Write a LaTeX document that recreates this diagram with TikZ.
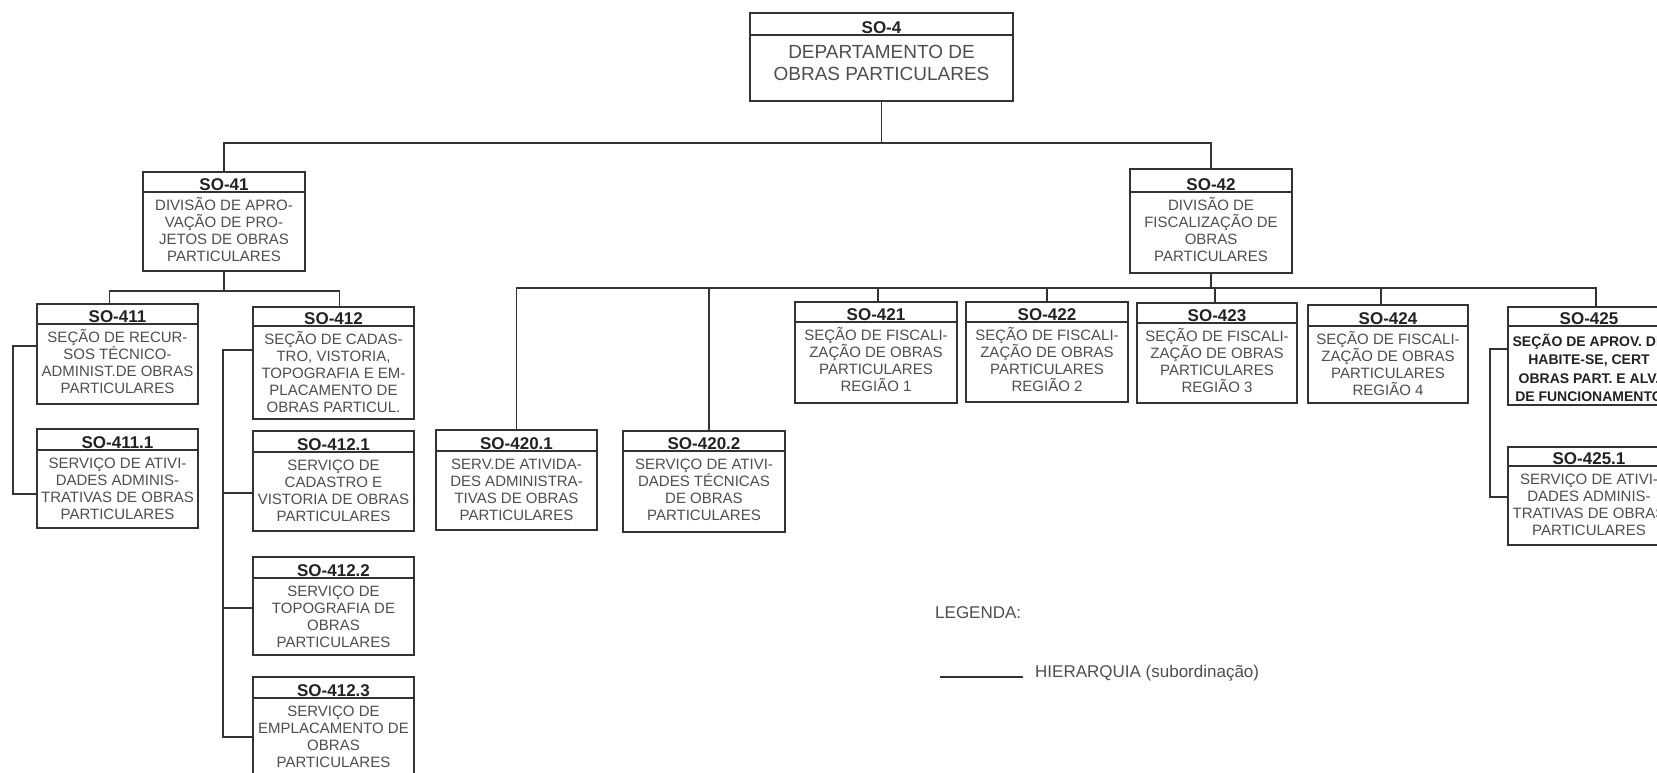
\documentclass[tikz,border=0pt]{standalone}
\usepackage{fontspec}
\setmainfont{Liberation Sans}
\definecolor{linec}{HTML}{333333}
\definecolor{bodyc}{HTML}{4E4E4E}
\definecolor{titlec}{HTML}{222222}
\newcommand\obox[9]{%
  \node[orgbox, minimum width={(#3)-(#2)}, minimum height={(#6)-(#4)}, anchor=north west] (#1) at (#2,#4) {};
  \draw[conn] (#2,#5) -- (#3,#5);
  \node[hdrtext, anchor=base] (#1-t) at ({((#2)+(#3))/2},{(#5)-1.5}) {#7};
  \node[bodytext, anchor=north, #9] (#1-b) at ({((#2)+(#3))/2},{(#5)-2}) {\rule{0pt}{20pt}#8};
}
\begin{document}
\begin{tikzpicture}[x=1pt,y=-1pt,
  orgbox/.style={draw=linec, line width=1.9pt, inner sep=0pt, outer sep=0pt, fill=white},
  conn/.style={draw=linec, line width=1.9pt},
  hdrtext/.style={inner sep=0pt, text=titlec, font=\fontsize{17}{20}\selectfont\bfseries},
  bodytext/.style={inner sep=0pt, align=center, text=bodyc, font=\fontsize{15}{17}\selectfont},
  legtext/.style={inner sep=0pt, text=bodyc, font=\fontsize{17}{20}\selectfont}]
\useasboundingbox (0,0) rectangle (1657,773);
\clip (0,0) rectangle (1657,773);
\fill[white] (0,0) rectangle (1657,773);

\obox{so4}{750}{1013}{13}{35}{101}{SO-4}{DEPARTAMENTO DE\\OBRAS PARTICULARES}{font=\fontsize{19}{22.5}\selectfont, yshift=-5.3pt}
\obox{so41}{143}{305}{172}{192}{271}{SO-41}{DIVISÃO DE APRO-\\VAÇÃO DE PRO-\\JETOS DE OBRAS\\PARTICULARES}{}
\obox{so411}{37}{198}{304}{324}{404}{SO-411}{SEÇÃO DE RECUR-\\SOS TÉCNICO-\\ADMINIST.DE OBRAS\\PARTICULARES}{}
\obox{so4111}{37}{198}{429}{450}{528}{SO-411.1}{SERVIÇO DE ATIVI-\\DADES ADMINIS-\\TRATIVAS DE OBRAS\\PARTICULARES}{}
\obox{so412}{253}{414}{307}{326}{419}{SO-412}{SEÇÃO DE CADAS-\\TRO, VISTORIA,\\TOPOGRAFIA E EM-\\PLACAMENTO DE\\OBRAS PARTICUL.}{}
\obox{so4121}{253}{414}{431}{452}{531}{SO-412.1}{SERVIÇO DE\\CADASTRO E\\VISTORIA DE OBRAS\\PARTICULARES}{}
\obox{so4122}{253}{414}{557}{578}{655}{SO-412.2}{SERVIÇO DE\\TOPOGRAFIA DE\\OBRAS\\PARTICULARES}{}
\obox{so4123}{253}{414}{677}{698}{778}{SO-412.3}{SERVIÇO DE\\EMPLACAMENTO DE\\OBRAS\\PARTICULARES}{}
\obox{so42}{1130}{1292}{169}{192}{273}{SO-42}{DIVISÃO DE\\FISCALIZAÇÃO DE\\OBRAS\\PARTICULARES}{}
\obox{so4201}{436}{597}{430}{451}{530}{SO-420.1}{SERV.DE ATIVIDA-\\DES ADMINISTRA-\\TIVAS DE OBRAS\\PARTICULARES}{}
\obox{so4202}{623}{785}{431}{451}{532}{SO-420.2}{SERVIÇO DE ATIVI-\\DADES TÉCNICAS\\DE OBRAS\\PARTICULARES}{}
\obox{so421}{795}{957}{302}{322}{403}{SO-421}{SEÇÃO DE FISCALI-\\ZAÇÃO DE OBRAS\\PARTICULARES\\REGIÃO 1}{}
\obox{so422}{966}{1128}{302}{322}{402}{SO-422}{SEÇÃO DE FISCALI-\\ZAÇÃO DE OBRAS\\PARTICULARES\\REGIÃO 2}{}
\obox{so423}{1137}{1297}{303}{323}{403}{SO-423}{SEÇÃO DE FISCALI-\\ZAÇÃO DE OBRAS\\PARTICULARES\\REGIÃO 3}{}
\obox{so424}{1308}{1468}{305}{326}{403}{SO-424}{SEÇÃO DE FISCALI-\\ZAÇÃO DE OBRAS\\PARTICULARES\\REGIÃO 4}{}
\obox{so425}{1508}{1670}{307}{326}{405}{SO-425}{SEÇÃO DE APROV. DE\\HABITE-SE, CERT\\OBRAS PART. E ALV.\\DE FUNCIONAMENTO}{font=\fontsize{14}{18.5}\selectfont\bfseries, text=titlec, yshift=-2pt}
\obox{so4251}{1508}{1670}{447}{466}{545}{SO-425.1}{SERVIÇO DE ATIVI-\\DADES ADMINIS-\\TRATIVAS DE OBRAS\\PARTICULARES}{}

% hierarchy connectors
\draw[conn] (so4.south) -- ++(0,42) coordinate (h0);
\draw[conn] (so41.north) |- (h0) -| (so42.north);
\draw[conn] (so41.south) -- ++(0,20) coordinate (h41);
\draw[conn] ([xshift=-8pt]so411.north) |- (h41) -| ([xshift=6pt]so412.north);
\draw[conn] (so42.south) -- ++(0,15) coordinate (h42);
\draw[conn] (so4201.north) |- (h42) -| ([xshift=7pt]so425.north);
\draw[conn] ([xshift=5pt]so4202.north) |- (h42);
\draw[conn] ([xshift=2pt]so421.north) |- (h42);
\draw[conn] (so422.north) |- (h42);
\draw[conn] ([xshift=-2pt]so423.north) |- (h42);
\draw[conn] ([xshift=-7pt]so424.north) |- (h42);

% side brackets
\draw[conn] ([yshift=-42pt]so411.north west) -- ++(-24,0) |- ([yshift=-65pt]so4111.north west);
\draw[conn] ([yshift=-43pt]so412.north west) -- ++(-30,0) coordinate (b412) |- ([yshift=-60pt]so4123.north west);
\draw[conn] ([yshift=-62pt]so4121.north west) -- ++(-30,0);
\draw[conn] ([yshift=-51pt]so4122.north west) -- ++(-30,0);
\draw[conn] ([yshift=-42pt]so425.north west) -- ++(-18,0) |- ([yshift=-50pt]so4251.north west);

% legend
\node[legtext, anchor=west] (leg) at (935,613) {LEGENDA:};
\coordinate (l1) at (940,677);
\coordinate (l2) at (1023,677);
\draw[conn] (l1) -- (l2);
\node[legtext, anchor=west] (legh) at (1035,673) {HIERARQUIA (subordinação)};
\end{tikzpicture}
\end{document}
